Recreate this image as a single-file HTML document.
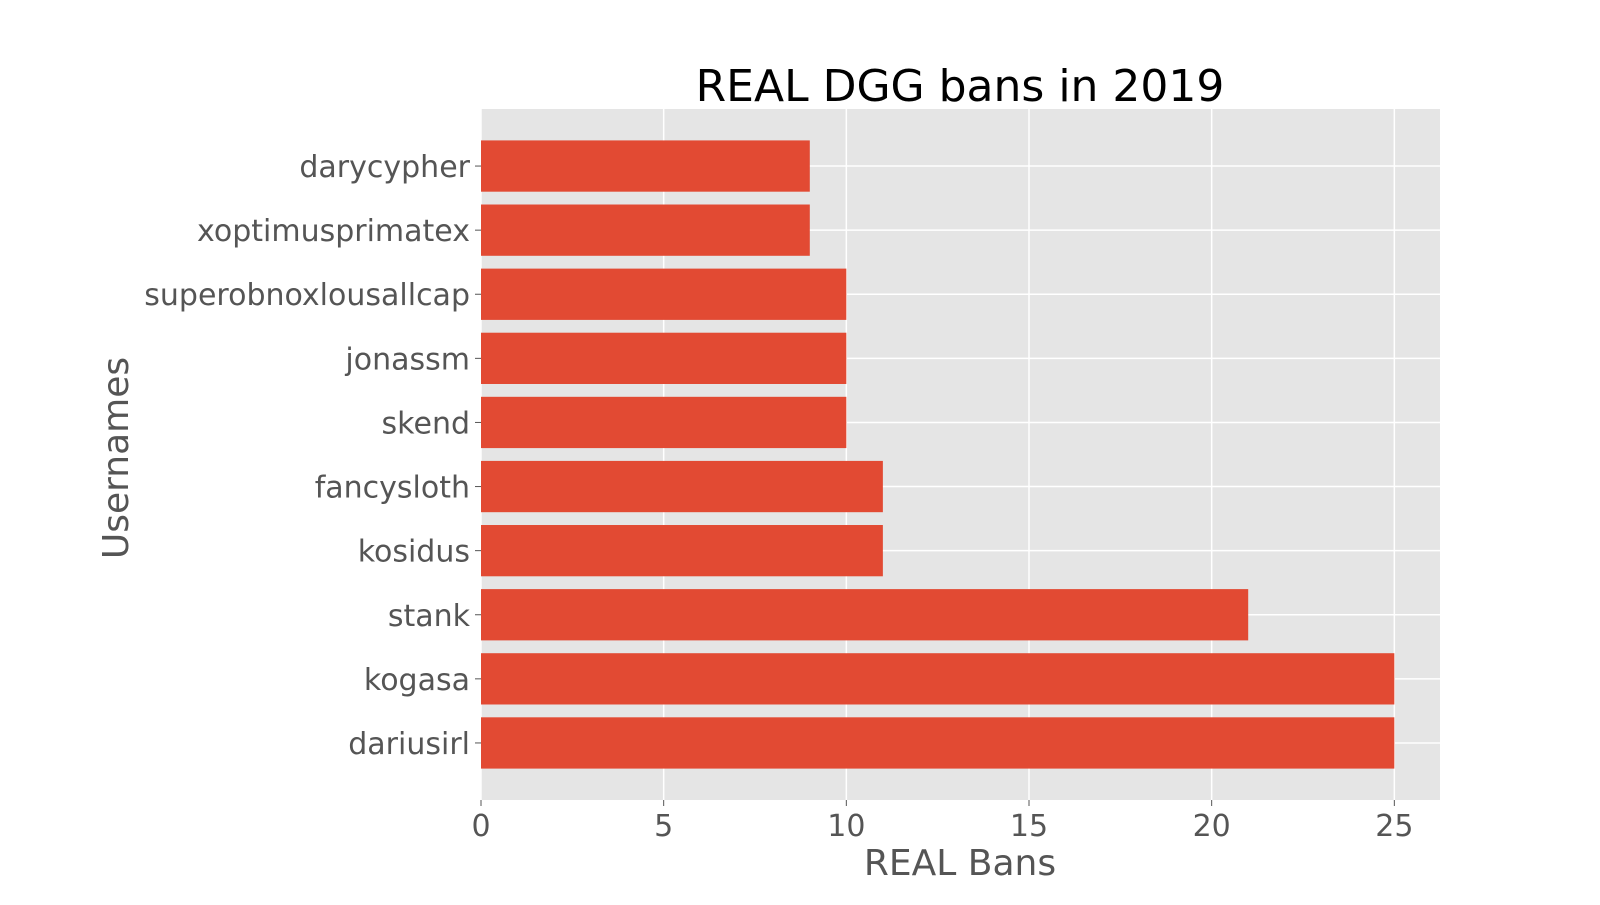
<!DOCTYPE html>
<html><head><meta charset="utf-8"><style>
body{margin:0;background:#fff;}
svg text{font-family:"DejaVu Sans","Liberation Sans",sans-serif;}
</style></head><body>
<svg id="chart" width="1600" height="900">
<rect x="481" y="109" width="959" height="691" fill="#e5e5e5"/>
<g id="grid"></g><g id="bars"></g><g id="yticks"></g><g id="xticks"></g>
<text x="960" y="101" font-size="44" text-anchor="middle" fill="#000">REAL DGG bans in 2019</text>
<text x="960" y="875" font-size="36" text-anchor="middle" fill="#555">REAL Bans</text>
<text transform="translate(128,458) rotate(-90)" font-size="36" text-anchor="middle" fill="#555">Usernames</text>
</svg>
<script>
const categories=["dariusirl","kogasa","stank","kosidus","fancysloth","skend","jonassm","superobnoxlousallcap","xoptimusprimatex","darycypher"];
const values=[25,25,21,11,11,10,10,10,9,9];
const xTicks=[0,5,10,15,20,25];
const NS="http://www.w3.org/2000/svg";
const L=481,R=1440,T=109,B=800;
const xmax=Math.max(...values)*1.05;
const xs=v=>L+v/xmax*(R-L);
const ymin=-0.4-0.05*(categories.length-0.2),ymax=categories.length-0.6+0.05*(categories.length-0.2);
const ys=v=>B-(v-ymin)/(ymax-ymin)*(B-T);
function mk(t,a,p){const e=document.createElementNS(NS,t);for(const k in a)e.setAttribute(k,a[k]);p.appendChild(e);return e;}
const grid=document.getElementById('grid'),bars=document.getElementById('bars'),yt=document.getElementById('yticks'),xt=document.getElementById('xticks');
xTicks.forEach(v=>{
 const g=mk('line',{x1:xs(v),x2:xs(v),y1:T,y2:B,stroke:'#fff','stroke-width':1.5},grid);
 
 
 const tk=mk('line',{x1:xs(v),x2:xs(v),y1:B,y2:B+6,stroke:'#555','stroke-width':1},xt);
 
 
 const t=mk('text',{x:xs(v),y:B+36,'font-size':30,'text-anchor':'middle',fill:'#555'},xt);
 t.textContent=v;
 
 
});
categories.forEach((c,i)=>{
 const g=mk('line',{x1:L,x2:R,y1:ys(i),y2:ys(i),stroke:'#fff','stroke-width':1.5},grid);
 
 
 const b=mk('rect',{x:xs(0),y:ys(i+0.4),width:xs(values[i])-xs(0),height:ys(i-0.4)-ys(i+0.4),fill:'#e24a33'},bars);
 
 
 const tk=mk('line',{x1:L-6,x2:L,y1:ys(i),y2:ys(i),stroke:'#555','stroke-width':1},yt);
 
 
 const t=mk('text',{x:L-11,y:ys(i)+11,'font-size':30,'text-anchor':'end',fill:'#555'},yt);
 t.textContent=c;
 
 
});
</script>
</body></html>
